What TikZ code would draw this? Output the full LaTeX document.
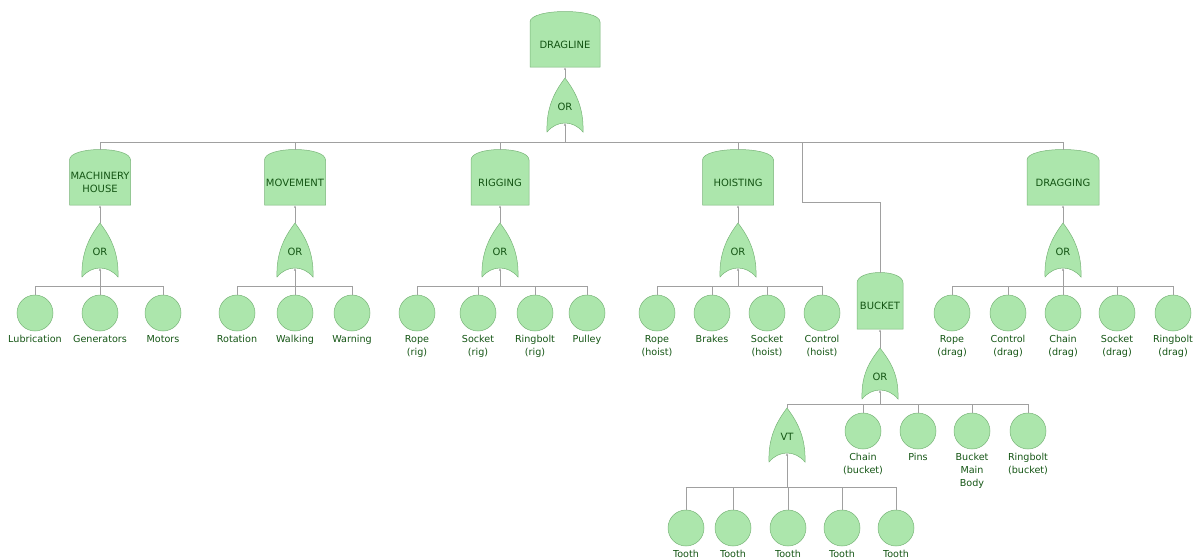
\documentclass[tikz,border=0pt]{standalone}
\usepackage{fontspec}
\setmainfont{DejaVu Sans}
\usetikzlibrary{arrows.meta}
\definecolor{gfill}{RGB}{172,230,172}
\definecolor{gborder}{RGB}{120,180,120}
\definecolor{gtextc}{RGB}{20,85,20}
\definecolor{wirec}{RGB}{160,160,160}
\tikzset{
  evfill/.style={fill=gfill,draw=gborder,line width=0.5pt},
  evtext/.style={inner sep=0pt,text=gtextc,align=center,font=\fontsize{10}{13}\selectfont},
  leaf/.style={circle,fill=gfill,draw=gborder,line width=0.5pt,minimum size=36pt,inner sep=0pt},
  leaflab/.style={inner sep=0pt,text=gtextc,align=center,font=\fontsize{9.6}{13}\selectfont},
  wire/.style={draw=wirec,line width=0.6pt},
  tip/.style={-{Latex[length=2.5pt,width=2.2pt]}},
}
% name, cx, y of corners, width, height, text
\newcommand\EvBox[6]{%
  \path[evfill] ({#2-#4/2},{#3+#5}) -- ({#2-#4/2},{#3})
    .. controls ({#2-#4/2},{#3-14}) and ({#2+#4/2},{#3-14}) .. ({#2+#4/2},{#3})
    -- ({#2+#4/2},{#3+#5}) -- cycle;
  \node[evtext,minimum width=#4,minimum height=#5] (#1) at (#2,{#3+#5/2}) {#6};
  \coordinate (#1-top) at (#2,{#3-10.5});}
% name, cx, ytop, height, text, bus y
\newcommand\Gate[6]{%
  \path[evfill] (#2,#3)
    .. controls ({#2-9},{#3+12}) and ({#2-19},{#3+#4-26}) .. ({#2-18},{#3+#4})
    .. controls ({#2-8},{#3+#4-12}) and ({#2+8},{#3+#4-12}) .. ({#2+18},{#3+#4})
    .. controls ({#2+19},{#3+#4-26}) and ({#2+9},{#3+12}) .. (#2,#3) -- cycle;
  \node[evtext] (#1) at (#2,{#3+29}) {#5};
  \coordinate (#1-top) at (#2,#3);
  \coordinate (#1-in) at (#2,{#3+#4-9});
  \coordinate (#1-bus) at (#2,#6);}
% name, cx, cy, text
\newcommand\Leaf[4]{%
  \node[leaf] (#1) at (#2,#3) {};
  \node[leaflab,anchor=north] (#1-l) at ([yshift=-4pt]#1.south) {#4};}
\begin{document}
\begin{tikzpicture}[x=1pt,y=-1pt]
\useasboundingbox (0,0) rectangle (1197,558);
% top
\EvBox{DL}{565}{22}{70}{45}{DRAGLINE}
\Gate{G0}{565}{78}{54}{OR}{142}
% level 2
\EvBox{MH}{100}{160}{61}{45}{MACHINERY\\HOUSE}
\EvBox{MV}{295}{160}{61}{45}{MOVEMENT}
\EvBox{RG}{500}{160}{58}{45}{RIGGING}
\EvBox{HO}{738}{160}{71}{45}{HOISTING}
\EvBox{DG}{1063}{160}{72}{45}{DRAGGING}
\EvBox{BK}{880}{283}{46}{46}{BUCKET}
\Gate{G1}{100}{223}{54}{OR}{286}
\Gate{G2}{295}{223}{54}{OR}{286}
\Gate{G3}{500}{223}{54}{OR}{286}
\Gate{G4}{738}{223}{54}{OR}{286}
\Gate{G5}{1063}{223}{54}{OR}{286}
\Gate{G6}{880}{348}{51}{OR}{404}
\Gate{G7}{787}{408}{54}{VT}{487}
% leaves
\Leaf{l11}{35}{313}{Lubrication}
\Leaf{l12}{100}{313}{Generators}
\Leaf{l13}{163}{313}{Motors}
\Leaf{l21}{237}{313}{Rotation}
\Leaf{l22}{295}{313}{Walking}
\Leaf{l23}{352}{313}{Warning}
\Leaf{l31}{417}{313}{Rope\\(rig)}
\Leaf{l32}{478}{313}{Socket\\(rig)}
\Leaf{l33}{535}{313}{Ringbolt\\(rig)}
\Leaf{l34}{587}{313}{Pulley}
\Leaf{l41}{657}{313}{Rope\\(hoist)}
\Leaf{l42}{712}{313}{Brakes}
\Leaf{l43}{767}{313}{Socket\\(hoist)}
\Leaf{l44}{822}{313}{Control\\(hoist)}
\Leaf{l51}{952}{313}{Rope\\(drag)}
\Leaf{l52}{1008}{313}{Control\\(drag)}
\Leaf{l53}{1063}{313}{Chain\\(drag)}
\Leaf{l54}{1117}{313}{Socket\\(drag)}
\Leaf{l55}{1173}{313}{Ringbolt\\(drag)}
\Leaf{l61}{863}{431}{Chain\\(bucket)}
\Leaf{l62}{918}{431}{Pins}
\Leaf{l63}{972}{431}{Bucket\\Main\\Body}
\Leaf{l64}{1028}{431}{Ringbolt\\(bucket)}
\Leaf{t1}{686}{528}{Tooth}
\Leaf{t2}{733}{528}{Tooth}
\Leaf{t3}{788}{528}{Tooth}
\Leaf{t4}{842}{528}{Tooth}
\Leaf{t5}{896}{528}{Tooth}
% connectors: box <- gate
\foreach \b/\g in {DL/G0,MH/G1,MV/G2,RG/G3,HO/G4,DG/G5,BK/G6}{
  \draw[wire,tip] (\g-top) -- (\b.south);}
\foreach \g in {G0,G1,G2,G3,G4,G5,G6,G7}{
  \draw[wire,tip] (\g-bus) -- (\g-in);}
% main bus
\foreach \c in {MH,MV,RG,HO,DG}{\draw[wire] (\c-top) |- (G0-bus);}
\coordinate (bend) at (802,202);
\draw[wire] (bend |- G0-bus) -- (bend) -| (BK-top);
% children
\foreach \c in {l11,l12,l13}{\draw[wire] (\c.north) |- (G1-bus);}
\foreach \c in {l21,l22,l23}{\draw[wire] (\c.north) |- (G2-bus);}
\foreach \c in {l31,l32,l33,l34}{\draw[wire] (\c.north) |- (G3-bus);}
\foreach \c in {l41,l42,l43,l44}{\draw[wire] (\c.north) |- (G4-bus);}
\foreach \c in {l51,l52,l53,l54,l55}{\draw[wire] (\c.north) |- (G5-bus);}
\foreach \c in {l61,l62,l63,l64}{\draw[wire] (\c.north) |- (G6-bus);}
\draw[wire] (G7-top) |- (G6-bus);
\foreach \c in {t1,t2,t3,t4,t5}{\draw[wire] (\c.north) |- (G7-bus);}
\end{tikzpicture}
\end{document}
